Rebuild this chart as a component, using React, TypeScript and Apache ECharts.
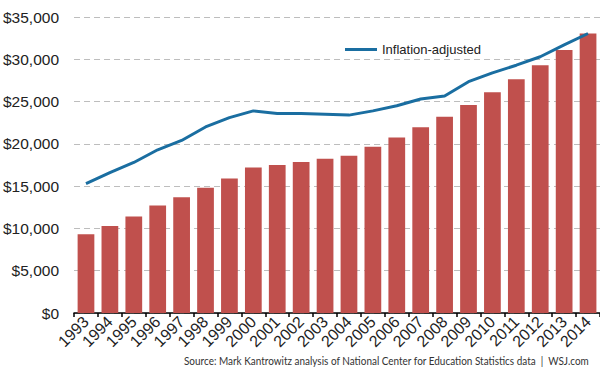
import React, { useEffect, useRef } from "react";
import * as echarts from "echarts";

const years = ["1993","1994","1995","1996","1997","1998","1999","2000","2001","2002","2003","2004","2005","2006","2007","2008","2009","2010","2011","2012","2013","2014"];
const nominal = [9300,10300,11400,12700,13700,14800,15900,17200,17500,17850,18250,18600,19650,20750,21950,23200,24600,26100,27650,29300,31100,33050];
const inflationAdjusted = [15300,16600,17800,19300,20400,22000,23100,23900,23600,23600,23500,23400,23900,24500,25300,25650,27350,28400,29300,30300,31700,33050];
const yTicks = { min: 0, max: 35000, interval: 5000 };
const sourceText = "Source: Mark Kantrowitz analysis of National Center for Education Statistics data  |  WSJ.com";

const NARROW = "'Liberation Sans Narrow', 'Arial Narrow', 'Liberation Sans', Arial, sans-serif";

export default function App() {
  const ref = useRef<HTMLDivElement>(null);
  useEffect(() => {
    if (!ref.current) return;
    const chart = echarts.init(ref.current, null, { renderer: "svg" });
    chart.setOption({
      animation: false,
      backgroundColor: "#ffffff",
      grid: { left: 69, top: 17, width: 535, height: 296, containLabel: false },
      legend: {
        data: [{ name: "Inflation-adjusted", icon: "rect" }],
        left: 340,
        top: 38,
        itemWidth: 32,
        itemHeight: 3,
        textStyle: { fontFamily: NARROW, fontSize: 13, color: "#222" },
      },
      xAxis: {
        type: "category",
        data: years,
        axisLine: { lineStyle: { color: "#000", width: 1.5 } },
        axisTick: { show: true, length: 4, lineStyle: { color: "#000", width: 1.5 } },
        axisLabel: { rotate: 45, fontFamily: NARROW, fontSize: 16, color: "#222", margin: 6, interval: 0 },
      },
      yAxis: {
        type: "value",
        min: yTicks.min,
        max: yTicks.max,
        interval: yTicks.interval,
        axisLine: { show: false },
        axisTick: { show: false },
        axisLabel: {
          fontFamily: NARROW,
          fontSize: 15.5,
          color: "#222",
          margin: 15,
          formatter: (v: number) => "$" + v.toLocaleString("en-US"),
        },
        splitLine: { lineStyle: { color: "#bdbdbd", type: [6, 4], width: 1 } },
      },
      series: [
        {
          name: "Nominal",
          type: "bar",
          data: nominal,
          barCategoryGap: "30%",
          itemStyle: { color: "#c0504d" },
        },
        {
          name: "Inflation-adjusted",
          type: "line",
          data: inflationAdjusted,
          symbol: "none",
          lineStyle: { color: "#1a6ea1", width: 3 },
          itemStyle: { color: "#1a6ea1" },
        },
      ],
      graphic: [
        {
          type: "text",
          x: 184,
          y: 354,
          scaleX: 0.83,
          style: { text: sourceText, fontFamily: "Lato, 'Open Sans', sans-serif", fontSize: 12, fill: "#333" },
        },
      ],
    });
    return () => chart.dispose();
  }, []);
  return <div ref={ref} style={{ width: 600, height: 368, position: "absolute", left: 0, top: 0 }} />;
}
